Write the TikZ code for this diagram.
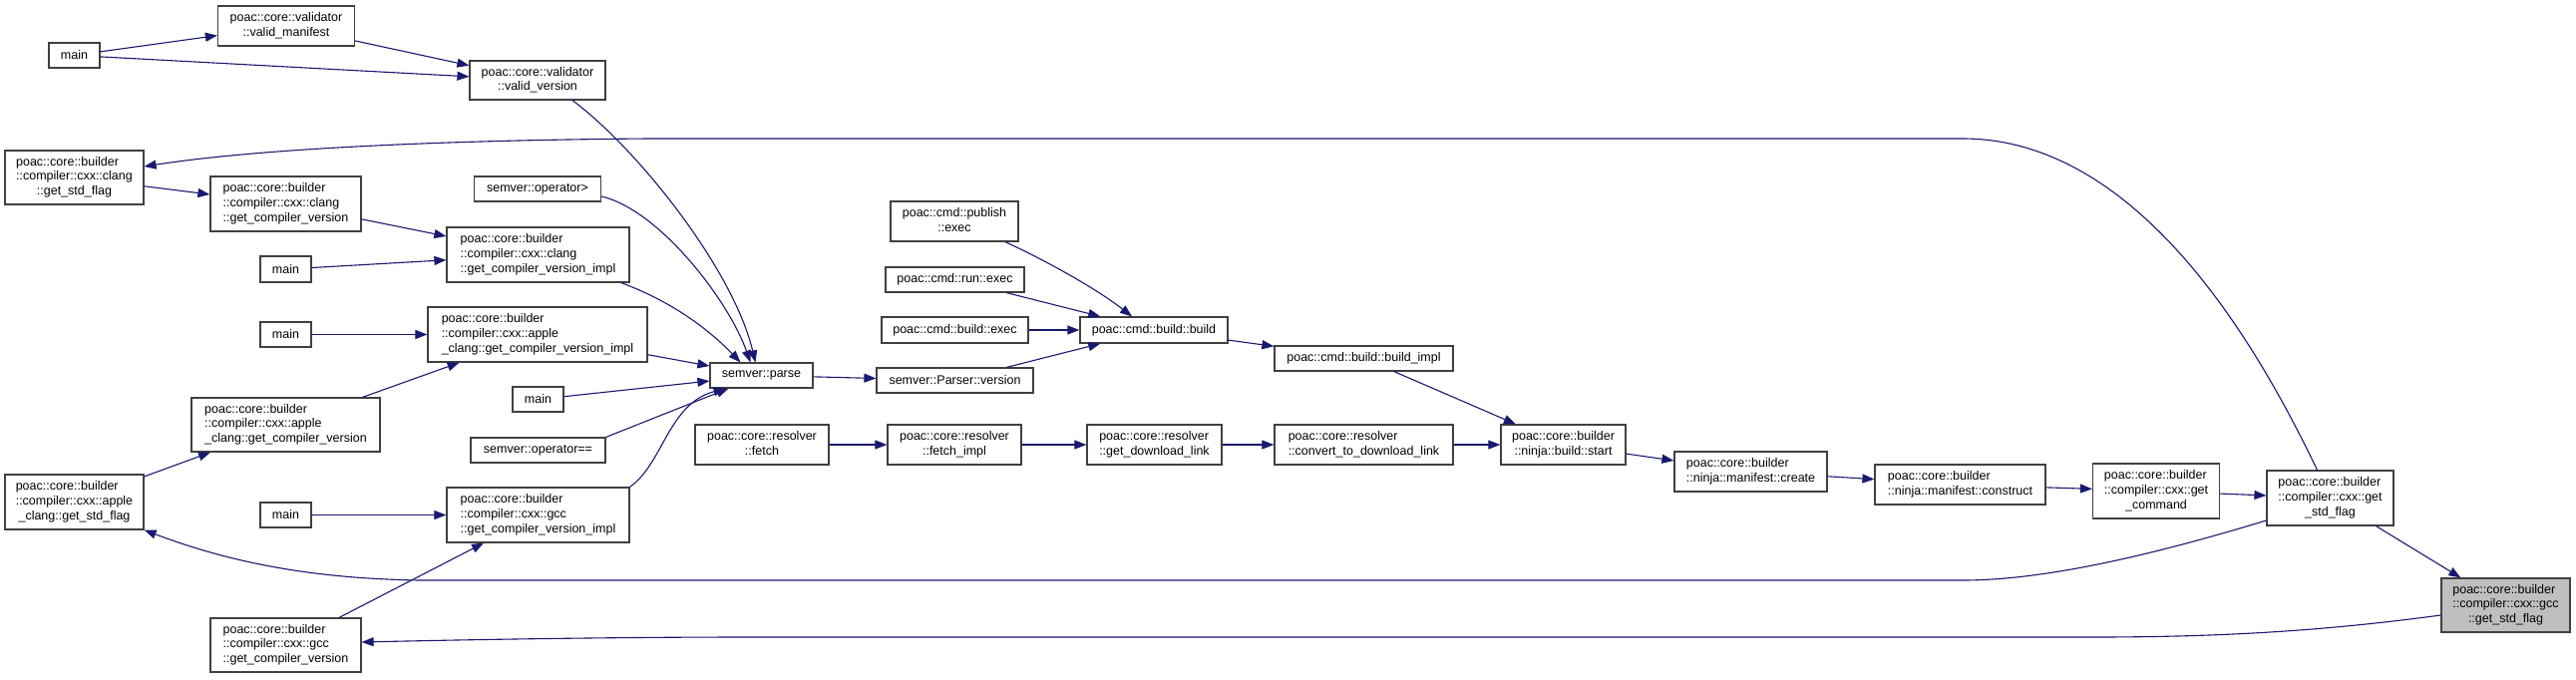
\documentclass[tikz,border=0pt]{standalone}
\usepackage{fontspec}
\setmainfont{Liberation Sans}
\usetikzlibrary{arrows.meta}
\definecolor{edgecol}{HTML}{191970}
\definecolor{boxcol}{HTML}{404040}
\definecolor{targetfill}{HTML}{BFBFBF}
\newcommand{\lblii}[2]{\begin{tabular}{@{}l@{}}#1\\\multicolumn{1}{@{}c@{}}{#2}\end{tabular}}
\newcommand{\lbliii}[3]{\begin{tabular}{@{}l@{}}#1\\#2\\\multicolumn{1}{@{}c@{}}{#3}\end{tabular}}
\begin{document}
\begin{tikzpicture}[x=1pt,y=-1pt,
  fn/.style={draw=boxcol, line width=1.2pt, fill=white, inner sep=0pt,
    font=\fontsize{12.5}{14.6}\selectfont, text=black},
  target/.style={fn, fill=targetfill},
  edge/.style={draw=edgecol, line width=1.1pt, -{Triangle[length=12pt,width=9pt]}}]
\useasboundingbox (0,0) rectangle (2583,681);
\fill[white] (0,0) rectangle (2583,681);
% nodes
\node[fn, minimum width=51pt, minimum height=25pt] (mainA) at (74.5,55.5) {main};
\node[fn, minimum width=137pt, minimum height=40pt] (vmanifest) at (287,26) {\lblii{poac::core::validator}{::valid\_manifest}};
\node[fn, minimum width=136pt, minimum height=39pt] (vversion) at (539,80.5) {\lblii{poac::core::validator}{::valid\_version}};
\node[fn, minimum width=139pt, minimum height=54pt] (clangstd) at (74.5,178) {\lbliii{poac::core::builder}{::compiler::cxx::clang}{::get\_std\_flag}};
\node[fn, minimum width=151pt, minimum height=55pt] (clanggcv) at (286.5,204.5) {\lbliii{poac::core::builder}{::compiler::cxx::clang}{::get\_compiler\_version}};
\node[fn, minimum width=127pt, minimum height=25pt] (opgt) at (539,189.5) {semver::operator>};
\node[fn, minimum width=51pt, minimum height=26pt] (mainB) at (286.5,270) {main};
\node[fn, minimum width=183pt, minimum height=55pt] (clangimpl) at (539.5,255.5) {\lbliii{poac::core::builder}{::compiler::cxx::clang}{::get\_compiler\_version\_impl}};
\node[fn, minimum width=51pt, minimum height=25pt] (mainC) at (286.5,335.5) {main};
\node[fn, minimum width=220pt, minimum height=55pt] (appleimpl) at (539,335.5) {\lbliii{poac::core::builder}{::compiler::cxx::apple}{\_clang::get\_compiler\_version\_impl}};
\node[fn, minimum width=51pt, minimum height=25pt] (mainD) at (539.5,400.5) {main};
\node[fn, minimum width=189pt, minimum height=54pt] (applegcv) at (286.5,426) {\lbliii{poac::core::builder}{::compiler::cxx::apple}{\_clang::get\_compiler\_version}};
\node[fn, minimum width=135pt, minimum height=25pt] (opeq) at (539.5,451.5) {semver::operator==};
\node[fn, minimum width=139pt, minimum height=55pt] (applestd) at (74.5,503.5) {\lbliii{poac::core::builder}{::compiler::cxx::apple}{\_clang::get\_std\_flag}};
\node[fn, minimum width=51pt, minimum height=25pt] (mainE) at (286.5,516.5) {main};
\node[fn, minimum width=183pt, minimum height=55pt] (gccimpl) at (539.5,516.5) {\lbliii{poac::core::builder}{::compiler::cxx::gcc}{::get\_compiler\_version\_impl}};
\node[fn, minimum width=151pt, minimum height=54pt] (gccgcv) at (286.5,647) {\lbliii{poac::core::builder}{::compiler::cxx::gcc}{::get\_compiler\_version}};
\node[fn, minimum width=103pt, minimum height=25pt] (parse) at (763.5,376.5) {semver::parse};
\node[fn, minimum width=134pt, minimum height=40pt] (fetch) at (764,446) {\lblii{poac::core::resolver}{::fetch}};
\node[fn, minimum width=128pt, minimum height=40pt] (publish) at (957,222) {\lblii{poac::cmd::publish}{::exec}};
\node[fn, minimum width=139pt, minimum height=25pt] (runexec) at (957.5,280.5) {poac::cmd::run::exec};
\node[fn, minimum width=147pt, minimum height=26pt] (buildexec) at (957.5,331) {poac::cmd::build::exec};
\node[fn, minimum width=157pt, minimum height=25pt] (pversion) at (957.5,381.5) {semver::Parser::version};
\node[fn, minimum width=134pt, minimum height=40pt] (fetchimpl) at (957,446) {\lblii{poac::core::resolver}{::fetch\_impl}};
\node[fn, minimum width=148pt, minimum height=26pt] (buildbuild) at (1157,331) {poac::cmd::build::build};
\node[fn, minimum width=135pt, minimum height=40pt] (gdl) at (1157.5,446) {\lblii{poac::core::resolver}{::get\_download\_link}};
\node[fn, minimum width=179pt, minimum height=25pt] (buildimpl) at (1367.5,359.5) {poac::cmd::build::build\_impl};
\node[fn, minimum width=179pt, minimum height=40pt] (cdl) at (1367.5,446) {\lblii{poac::core::resolver}{::convert\_to\_download\_link}};
\node[fn, minimum width=125pt, minimum height=40pt] (start) at (1567.5,446) {\lblii{poac::core::builder}{::ninja::build::start}};
\node[fn, minimum width=153pt, minimum height=40pt] (create) at (1755.5,473) {\lblii{poac::core::builder}{::ninja::manifest::create}};
\node[fn, minimum width=171pt, minimum height=40pt] (construct) at (1965.5,486) {\lblii{poac::core::builder}{::ninja::manifest::construct}};
\node[fn, minimum width=127pt, minimum height=55pt] (getcmd) at (2162,492.5) {\lbliii{poac::core::builder}{::compiler::cxx::get}{\_command}};
\node[fn, minimum width=127pt, minimum height=55pt] (cxxstd) at (2336.5,499.5) {\lbliii{poac::core::builder}{::compiler::cxx::get}{\_std\_flag}};
\node[target, minimum width=129pt, minimum height=54pt] (gccstd) at (2512.5,607) {\lbliii{poac::core::builder}{::compiler::cxx::gcc}{::get\_std\_flag}};
% edges
\draw[edge] (mainA) -- (vmanifest);
\draw[edge] (mainA) -- (vversion);
\draw[edge] (vmanifest) -- (vversion);
\draw[edge] ([xshift=35pt]vversion.south) .. controls (640,150) and (735,270) .. ([xshift=-6pt]parse.north);
\draw[edge] ([xshift=-13pt]cxxstd.north) .. controls (2270,360) and (2150,139) .. (1968,139) -- (650,139) .. controls (400,141) and (240,152) .. ([yshift=11pt]clangstd.east);
\draw[edge] (clangstd) -- (clanggcv);
\draw[edge] (clanggcv) -- (clangimpl);
\draw[edge] (mainB) -- (clangimpl);
\draw[edge] ([yshift=-7.5pt]opgt.east) .. controls (660,210) and (730,300) .. ([xshift=-11pt]parse.north);
\draw[edge] ([xshift=83.5pt]clangimpl.south) .. controls (680,305) and (715,335) .. ([xshift=-21pt]parse.north);
\draw[edge] (mainC) -- (appleimpl);
\draw[edge] (appleimpl) -- (parse);
\draw[edge] (applegcv) -- (appleimpl);
\draw[edge] (applestd) -- (applegcv);
\draw[edge] (mainD) -- (parse);
\draw[edge] (opeq.north east) -- ([xshift=-33pt]parse.south);
\draw[edge] (gccimpl.north east) .. controls (665,465) and (670,405) .. ([xshift=-36pt]parse.south);
\draw[edge] (mainE) -- (gccimpl);
\draw[edge] (gccgcv) -- (gccimpl);
\draw[edge] ([yshift=-22.5pt]cxxstd.west) .. controls (2180,550) and (2060,582) .. (1968,582) -- (420,582) .. controls (300,580) and (220,560) .. (applestd.south east);
\draw[edge] ([yshift=-10pt]gccstd.west) .. controls (2350,630) and (2250,639) .. (2100,639) -- (750,639) .. controls (600,639) and (450,642) .. ([yshift=3pt]gccgcv.east);
\draw[edge] ([xshift=51pt]publish.south) .. controls (1050,262) and (1100,290) .. ([xshift=-22pt]buildbuild.north);
\draw[edge] (runexec) -- (buildbuild);
\draw[edge] (buildexec) -- (buildbuild);
\draw[edge] (parse) -- (pversion);
\draw[edge] (pversion) -- (buildbuild);
\draw[edge] (buildbuild) -- (buildimpl);
\draw[edge] (buildimpl) -- (start);
\draw[edge] (fetch) -- (fetchimpl);
\draw[edge] (fetchimpl) -- (gdl);
\draw[edge] (gdl) -- (cdl);
\draw[edge] (cdl) -- (start);
\draw[edge] (start) -- (create);
\draw[edge] (create) -- (construct);
\draw[edge] (construct) -- (getcmd);
\draw[edge] (getcmd) -- (cxxstd);
\draw[edge] (cxxstd) -- (gccstd);
\end{tikzpicture}
\end{document}
